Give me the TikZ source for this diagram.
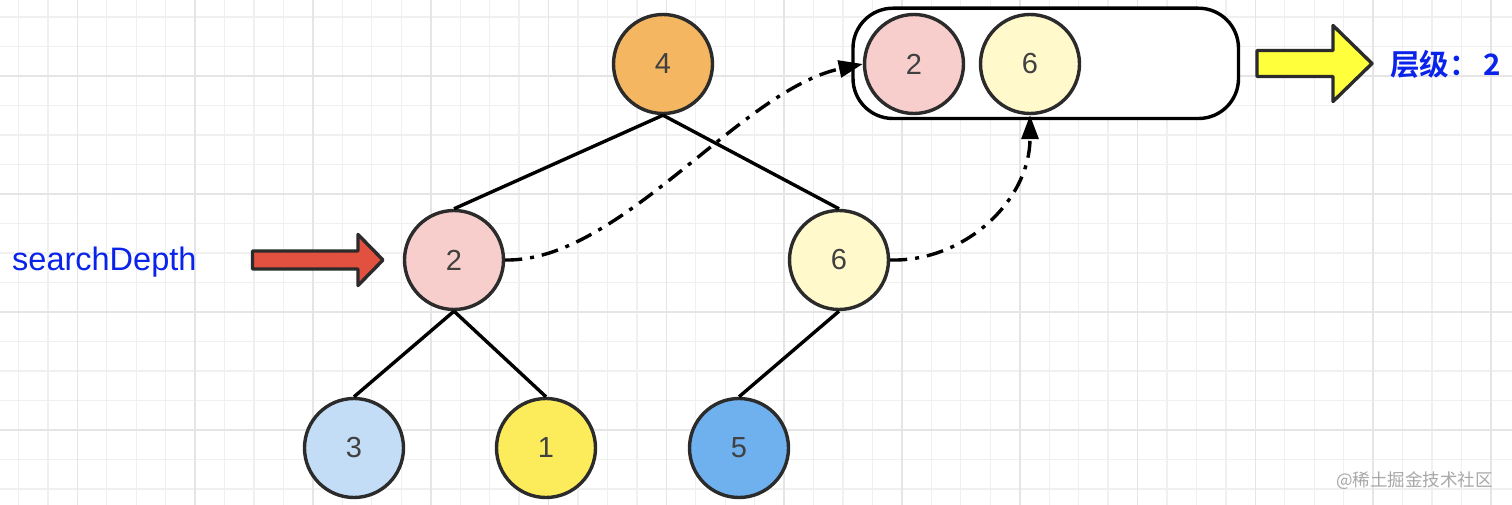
\documentclass[tikz,border=0pt]{standalone}
\usepackage{fontspec}
\setmainfont{Liberation Sans}
\newfontfamily\cjk{Noto Sans CJK SC}[BoldFont={* Bold}]
\usetikzlibrary{arrows.meta}
\definecolor{stroke}{HTML}{2B2B2B}
\definecolor{minorg}{HTML}{F0F0F0}
\definecolor{majorg}{HTML}{E5E5E5}
\definecolor{cOrange}{HTML}{F4B661}
\definecolor{cPink}{HTML}{F8CECC}
\definecolor{cCream}{HTML}{FFF9CC}
\definecolor{cLBlue}{HTML}{C3DDF7}
\definecolor{cYellow}{HTML}{FCEC5C}
\definecolor{cBlue}{HTML}{6FB0EE}
\definecolor{cRed}{HTML}{E2513F}
\definecolor{cArrowY}{HTML}{FFFF3C}
\definecolor{txtblue}{RGB}{10,35,235}
\definecolor{wm}{HTML}{A8A8A8}
\tikzset{
  minorgrid/.style={minorg, line width=1.3pt},
  majorgrid/.style={majorg, line width=1.6pt},
  treenode/.style={circle, draw=stroke, line width=3.4pt, minimum size=99pt, inner sep=0pt,
    font=\fontsize{29}{31}\selectfont, text=stroke!90},
  edge/.style={stroke, line width=3.4pt},
  dashconn/.style={stroke, line width=3.4pt, dash pattern=on 17pt off 8pt on 4pt off 8pt,
    -{Triangle[length=24pt,width=17pt]}},
  bigarrow/.style={draw=stroke, line width=3.4pt, line join=round},
}
\begin{document}
\begin{tikzpicture}[x=1pt,y=-1pt]
\useasboundingbox (0,0) rectangle (1512,505);
\fill[white] (0,0) rectangle (1512,505);
% grid
\foreach \i in {0,...,52} \draw[minorgrid] ({-11.05+29.45*\i},0) -- ++(0,505);
\foreach \j in {0,...,18} \draw[minorgrid] (0,{-12.5+29.5*\j}) -- ++(1512,0);
\foreach \i in {0,...,13} \draw[majorgrid] ({77.3+117.8*(\i-1)},0) -- ++(0,505);
\foreach \j in {0,...,5} \draw[majorgrid] (0,{76+118*(\j-1)}) -- ++(1512,0);
% container
\draw[stroke, line width=3.4pt, fill=white, rounded corners=40pt] (853,8.2) rectangle (1238.5,118.5);
% tree nodes
\node[treenode, fill=cOrange] (n4) at (663,64) {4};
\node[treenode, fill=cPink] (n2) at (454,260) {2};
\node[treenode, fill=cCream] (n6) at (839,260) {6};
\node[treenode, fill=cLBlue] (n3) at (354,448) {3};
\node[treenode, fill=cYellow] (n1) at (546,448) {1};
\node[treenode, fill=cBlue] (n5) at (739,448) {5};
% container nodes
\node[treenode, fill=cPink] (c2) at (914,64) {2};
\node[treenode, fill=cCream] (c6) at (1030,64) {6};
% edges
\draw[edge] (n4.south) -- (n2.north);
\draw[edge] (n4.south) -- (n6.north);
\draw[edge] (n2.south) -- (n3.north);
\draw[edge] (n2.south) -- (n1.north);
\draw[edge] (n6.south) -- (n5.north);
% dash-dot connectors
\draw[dashconn] (n2.east) .. controls (620,262) and (740,90) .. (c2.west);
\draw[dashconn] (n6.east) .. controls (965,262) and (1030,200) .. (c6.south);
% red arrow
\draw[bigarrow, fill=cRed] (252.5,251) -- (358,251) -- (358,234.5) -- (383,260) -- (358,285.5) -- (358,269) -- (252.5,269) -- cycle;
% yellow arrow
\draw[bigarrow, fill=cArrowY] (1257,50.5) -- (1333,50.5) -- (1333,25.5) -- (1372,63.5) -- (1333,101.5) -- (1333,76.5) -- (1257,76.5) -- cycle;
% labels
\node[anchor=base west, inner sep=0pt, text=txtblue, font=\fontsize{32.5}{34}\selectfont] (lsd) at (12,270) {searchDepth};
\node[anchor=west, inner sep=0pt, text=txtblue, font=\cjk\bfseries\fontsize{29.5}{31}\selectfont] (llv) at (1390,64) {层级：\,2};
\node[anchor=west, inner sep=0pt, text=wm, font=\cjk\fontsize{17.5}{19}\selectfont] (lwm) at (1336,481) {@稀土掘金技术社区};
\end{tikzpicture}
\end{document}
